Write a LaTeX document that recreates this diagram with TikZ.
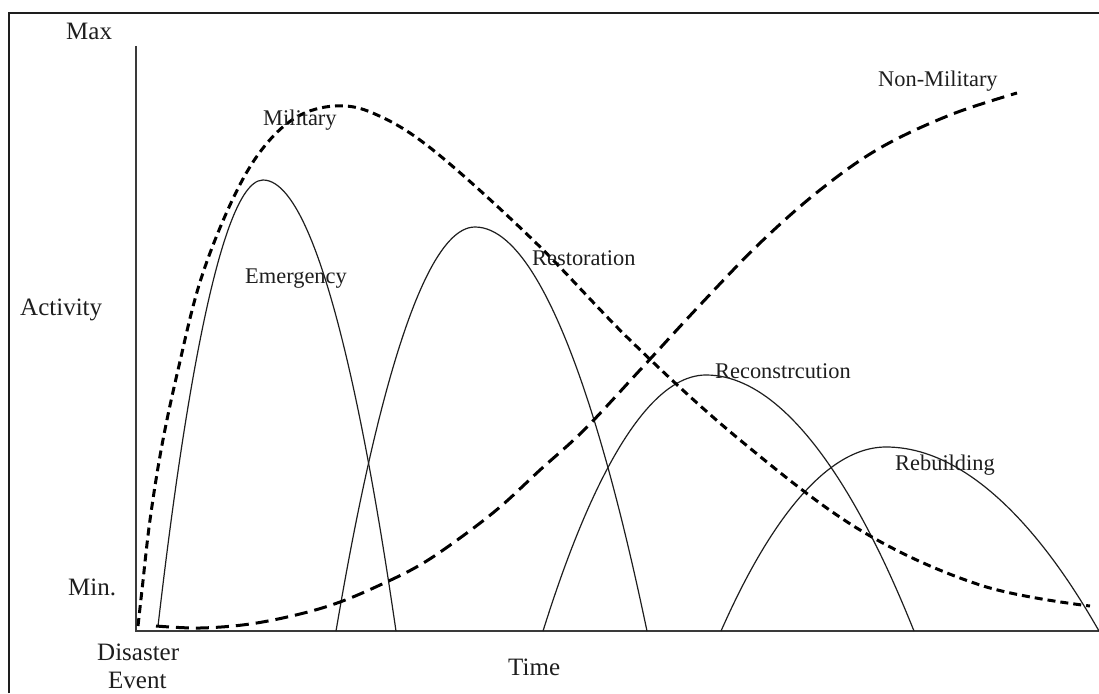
\documentclass[tikz,border=0pt]{standalone}
\usepackage{fontspec}
\setmainfont{Liberation Serif}
\definecolor{ink}{HTML}{1E1E1E}
\definecolor{axisgray}{HTML}{3A3A3A}
\begin{document}
\begin{tikzpicture}[x=1pt,y=-1pt,
  axislbl/.style={font=\fontsize{25}{27}\selectfont, text=ink, inner sep=0pt, anchor=base west},
  curvelbl/.style={font=\fontsize{22.4}{24}\selectfont, text=ink, inner sep=0pt, anchor=base west},
  frameline/.style={draw=ink, line width=2pt},
  axisline/.style={draw=axisgray, line width=1.7pt},
  phase/.style={draw=ink, line width=1.2pt},
  milcurve/.style={draw=black, line width=3pt, dash pattern=on 8pt off 5pt},
  civcurve/.style={draw=black, line width=3pt, dash pattern=on 13pt off 7pt},
]
\useasboundingbox (0,0) rectangle (1099,693);

% outer frame (left and top edges)
\coordinate (fbl) at (8.5,693);
\coordinate (ftl) at (8.5,13);
\coordinate (ftr) at (1099,13);
\draw[frameline] (fbl) -- (ftl) -- (ftr);

% axes
\coordinate (ytop) at (136,46);
\coordinate (orig) at (136,631);
\coordinate (xend) at (1099,631);
\draw[axisline] (ytop) -- (orig) -- (xend);

% axis labels
\node[axislbl] (max) at (66,40) {Max};
\node[axislbl] (min) at (68,595) {Min.};
\node[axislbl] (act) at (20,315) {Activity};
\node[axislbl] (dis) at (97,660) {Disaster};
\node[axislbl] (evt) at (108,688) {Event};
\node[axislbl] (time) at (508,675) {Time};

% phase curves
\coordinate (e0) at (158,626); \coordinate (e1) at (263,180); \coordinate (e2) at (396,631);
\coordinate (r0) at (336,631); \coordinate (r1) at (475,227); \coordinate (r2) at (647,631);
\coordinate (c0) at (543,631); \coordinate (c1) at (706,375); \coordinate (c2) at (914,631);
\coordinate (b0) at (721,631); \coordinate (b1) at (886,447); \coordinate (b2) at (1099,631);
\draw[phase] (e0) parabola bend (e1) (e2);
\draw[phase] (r0) parabola bend (r1) (r2);
\draw[phase] (c0) parabola bend (c1) (c2);
\draw[phase] (b0) parabola bend (b1) (b2);

% military involvement
\draw[milcurve] plot[smooth, tension=0.6] coordinates {
  (138,626) (142,590) (150,520) (162,445) (178,370) (200,282) (230,205)
  (260,152) (295,118) (335,106) (375,114) (433,150) (533,240) (633,343)
  (740,440) (860,530) (980,585) (1090,606)};

% non-military involvement
\draw[civcurve] plot[smooth, tension=0.6] coordinates {
  (156,626) (200,628) (250,624) (300,614) (340,602) (380,585) (420,565)
  (460,538) (500,507) (540,470) (584,430) (640,370) (700,305) (760,243)
  (820,190) (880,148) (950,115) (1017,93)};

% curve labels
\node[curvelbl] (mil) at (263,125) {Military};
\node[curvelbl] (nonmil) at (878,86) {Non-Military};
\node[curvelbl] (emg) at (245,283) {Emergency};
\node[curvelbl] (rst) at (532,265) {Restoration};
\node[curvelbl] (rcn) at (715,378) {Reconstrcution};
\node[curvelbl] (rbd) at (895,470) {Rebuilding};
\end{tikzpicture}
\end{document}
